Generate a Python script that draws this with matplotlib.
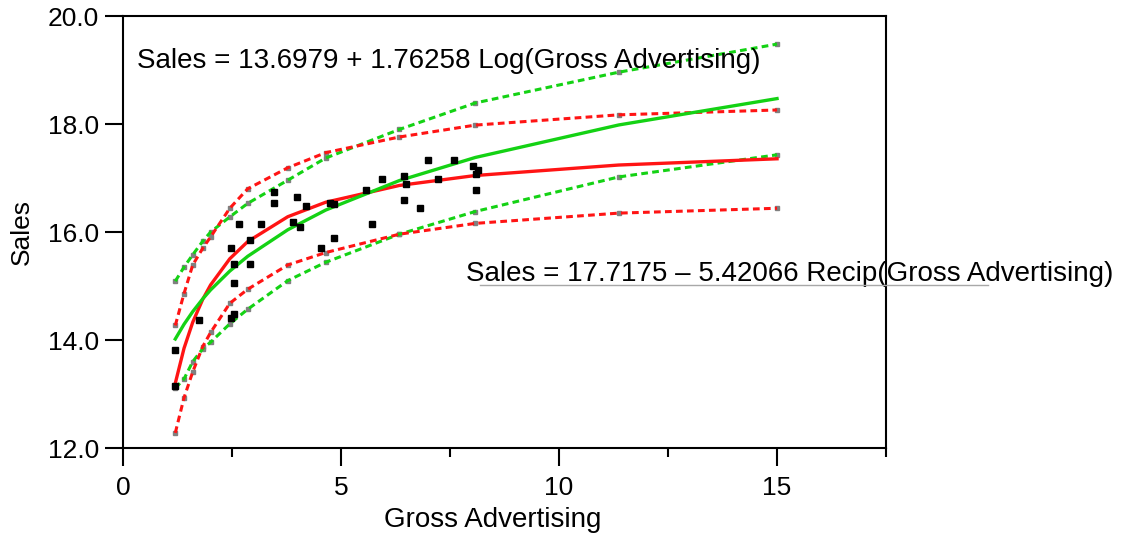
import numpy as np
import matplotlib.pyplot as plt
from matplotlib.lines import Line2D
from matplotlib.ticker import MultipleLocator, FormatStrFormatter

plt.rcParams['font.family'] = ['Liberation Sans', 'DejaVu Sans']

# observed data
gross_adv = [1.19, 1.19, 1.74, 2.47, 2.54, 2.54, 2.47, 2.54, 2.65, 2.91, 2.91, 3.16,
             3.46, 3.46, 3.89, 4.00, 4.07, 4.19, 4.55, 4.74, 4.85, 4.85, 5.58, 5.72,
             5.95, 6.45, 6.50, 6.45, 6.82, 7.00, 7.23, 7.60, 8.03, 8.15, 8.10, 8.10]
sales = [13.82, 13.14, 14.38, 15.71, 15.41, 15.06, 14.41, 14.48, 16.15, 15.86, 15.41, 16.15,
         16.75, 16.54, 16.19, 16.64, 16.09, 16.49, 15.71, 16.54, 16.51, 15.89, 16.78, 16.15,
         16.99, 17.04, 16.89, 16.60, 16.45, 17.34, 16.99, 17.34, 17.23, 17.14, 17.08, 16.78]

# x values where the fitted curves and bands are evaluated
grid_x = [1.2, 1.40, 1.60, 1.83, 2.01, 2.45, 2.86, 3.78, 4.65, 6.34, 8.08, 11.37, 15.0]

# fitted coefficients
log_b0, log_b1 = 13.6979, 1.76258
rec_b0, rec_b1 = 17.7175, -5.42066

# prediction bands
log_upper = [15.09, 15.35, 15.58, 15.83, 16.00, 16.28, 16.53, 16.96, 17.37, 17.90, 18.39, 18.96, 19.48]
log_lower = [13.11, 13.28, 13.60, 13.84, 13.96, 14.30, 14.57, 15.10, 15.44, 15.96, 16.38, 17.02, 17.43]
rec_upper = [14.27, 14.86, 15.39, 15.70, 15.91, 16.44, 16.80, 17.19, 17.47, 17.76, 17.98, 18.17, 18.26]
rec_lower = [12.28, 12.93, 13.41, 13.88, 14.14, 14.68, 14.94, 15.39, 15.62, 15.96, 16.16, 16.35, 16.44]

gx = np.array(grid_x)
log_fit = log_b0 + log_b1 * np.log(gx)
rec_fit = rec_b0 + rec_b1 / gx

red = '#ff1414'
green = '#14d214'
dots = (0, (2.2, 1.4))

fig = plt.figure(figsize=(11.24, 5.34), dpi=100)
ax = fig.add_axes([0.1094, 0.161, 0.6789, 0.809])

# band vertices show as small grey squares
for band in [log_upper, log_lower, rec_upper, rec_lower]:
    ax.plot(gx, band, ls='none', marker='s', ms=2.2, color='#808080', zorder=1)

ax.plot(gx, log_upper, color=green, lw=2.2, ls=dots, zorder=2)
ax.plot(gx, log_lower, color=green, lw=2.2, ls=dots, zorder=2)
ax.plot(gx, rec_upper, color=red, lw=2.2, ls=dots, zorder=2)
ax.plot(gx, rec_lower, color=red, lw=2.2, ls=dots, zorder=2)

ax.plot(gx, rec_fit, color=red, lw=2.4, zorder=3)
ax.plot(gx, log_fit, color=green, lw=2.4, zorder=3)

ax.plot(gross_adv, sales, ls='none', marker='s', ms=5, color='black', zorder=4)

ax.set_xlim(0, 17.5)
ax.set_ylim(12, 20)
ax.xaxis.set_major_locator(MultipleLocator(5))
ax.xaxis.set_minor_locator(MultipleLocator(2.5))
ax.yaxis.set_major_locator(MultipleLocator(2))
ax.yaxis.set_major_formatter(FormatStrFormatter('%.1f'))
ax.tick_params(which='major', direction='out', length=13, width=1.5, labelsize=19)
ax.tick_params(axis='y', pad=4)
ax.tick_params(axis='x', pad=7)
ax.tick_params(which='minor', direction='out', length=6.5, width=1.5)
for s in ax.spines.values():
    s.set_linewidth(1.5)

ax.set_xlabel('Gross Advertising', fontsize=20)
ax.xaxis.set_label_coords(0.484, -0.137)
ax.set_ylabel('Sales', fontsize=19, labelpad=10)

ax.text(0.32, 19.04, 'Sales = 13.6979 + 1.76258 Log(Gross Advertising)',
        fontsize=20, ha='left', va='baseline')
ax.text(7.87, 15.09, 'Sales = 17.7175 \u2013 5.42066 Recip(Gross Advertising)',
        fontsize=20, ha='left', va='baseline')
fig.add_artist(Line2D([0.427, 0.879], [0.466, 0.466], color='#a8a8a8', lw=1))

fig.savefig('out.png', dpi=100)
